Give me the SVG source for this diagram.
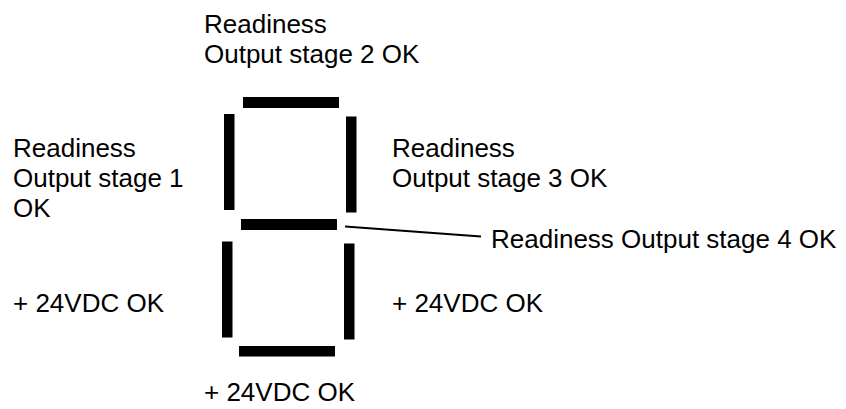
<svg xmlns="http://www.w3.org/2000/svg" width="846" height="409" viewBox="0 0 846 409">
  <style>
    .seg { fill: #000; }
    .lbl { font-family: "Liberation Sans", Arial, sans-serif; font-size: 26px; fill: #000; }
    .lead { stroke: #000; stroke-width: 2; fill: none; }
  </style>
  <rect width="846" height="409" fill="#fff"/>

  <!-- seven-segment display bars -->
  <g id="seg-top"><rect class="seg" x="243" y="97" width="96" height="11"/></g>
  <g id="seg-upper-left"><rect class="seg" x="224" y="114" width="10.5" height="96"/></g>
  <g id="seg-upper-right"><rect class="seg" x="346" y="116.5" width="10.5" height="96"/></g>
  <g id="seg-middle"><rect class="seg" x="241" y="219" width="96" height="11"/></g>
  <g id="seg-lower-left"><rect class="seg" x="222" y="241.5" width="10.5" height="96"/></g>
  <g id="seg-lower-right"><rect class="seg" x="344" y="243.5" width="10.5" height="96"/></g>
  <g id="seg-bottom"><rect class="seg" x="239" y="346" width="96" height="10.5"/></g>

  <!-- leader line from the middle bar to its label -->
  <g id="connectors">
    <line class="lead" x1="345" y1="226.5" x2="481" y2="236.5"/>
  </g>

  <!-- labels -->
  <g id="label-top">
    <text class="lbl" x="204" y="33">Readiness</text>
    <text class="lbl" x="204" y="63">Output stage 2 OK</text>
  </g>
  <g id="label-upper-left">
    <text class="lbl" x="13" y="157">Readiness</text>
    <text class="lbl" x="13" y="187">Output stage 1</text>
    <text class="lbl" x="13" y="217">OK</text>
  </g>
  <g id="label-upper-right">
    <text class="lbl" x="392" y="157">Readiness</text>
    <text class="lbl" x="392" y="187">Output stage 3 OK</text>
  </g>
  <g id="label-middle">
    <text class="lbl" x="491" y="248">Readiness Output stage 4 OK</text>
  </g>
  <g id="label-lower-left">
    <text class="lbl" x="13" y="312">+ 24VDC OK</text>
  </g>
  <g id="label-lower-right">
    <text class="lbl" x="392" y="312">+ 24VDC OK</text>
  </g>
  <g id="label-bottom">
    <text class="lbl" x="204" y="401">+ 24VDC OK</text>
  </g>
</svg>
